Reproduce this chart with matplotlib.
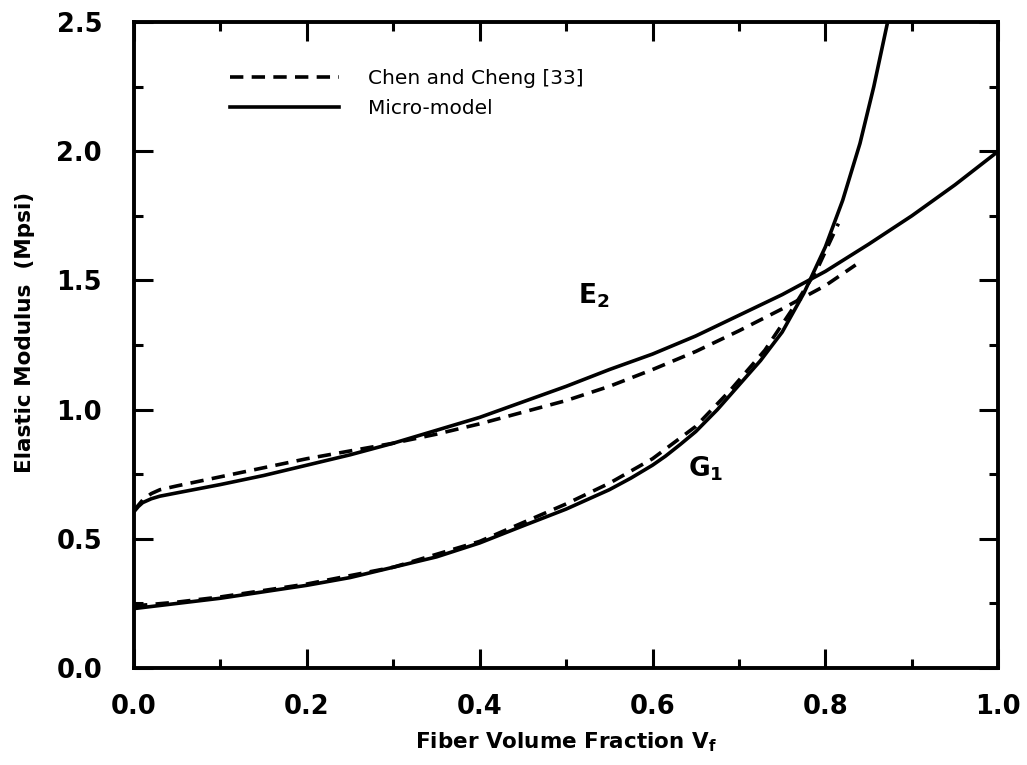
import matplotlib
matplotlib.use('Agg')
from matplotlib import pyplot as plt
from matplotlib.ticker import MultipleLocator

# fiber volume fraction vs modulus (Mpsi)
e2_micro_x = [0, 0.005, 0.01, 0.02, 0.03, 0.05, 0.1, 0.15, 0.2, 0.25, 0.3,
              0.35, 0.4, 0.45, 0.5, 0.55, 0.6, 0.65, 0.7, 0.75, 0.8, 0.85,
              0.9, 0.95, 1.0]
e2_micro_y = [0.605, 0.625, 0.64, 0.655, 0.665, 0.678, 0.71, 0.745, 0.785,
              0.825, 0.87, 0.92, 0.97, 1.03, 1.09, 1.155, 1.215, 1.285,
              1.365, 1.445, 1.535, 1.64, 1.75, 1.87, 2.0]

e2_chen_x = [0, 0.01, 0.02, 0.03, 0.05, 0.1, 0.15, 0.2, 0.25, 0.3, 0.35,
             0.4, 0.45, 0.5, 0.55, 0.6, 0.65, 0.7, 0.75, 0.8, 0.835]
e2_chen_y = [0.61, 0.65, 0.675, 0.69, 0.705, 0.74, 0.775, 0.81, 0.84, 0.87,
             0.905, 0.945, 0.99, 1.035, 1.09, 1.155, 1.225, 1.305, 1.39,
             1.48, 1.56]

g1_micro_x = [0, 0.05, 0.1, 0.15, 0.2, 0.25, 0.3, 0.35, 0.4, 0.45, 0.5,
              0.55, 0.575, 0.6, 0.615, 0.632, 0.65, 0.675, 0.7, 0.725, 0.75,
              0.775, 0.8, 0.82, 0.84, 0.856, 0.872]
g1_micro_y = [0.23, 0.25, 0.27, 0.295, 0.32, 0.35, 0.39, 0.43, 0.484, 0.55,
              0.615, 0.69, 0.735, 0.785, 0.82, 0.865, 0.915, 1.0, 1.095,
              1.19, 1.30, 1.45, 1.63, 1.81, 2.03, 2.25, 2.5]

g1_chen_x = [0, 0.05, 0.1, 0.2, 0.3, 0.4, 0.5, 0.55, 0.6, 0.65, 0.69, 0.73,
             0.76, 0.79, 0.815]
g1_chen_y = [0.24, 0.255, 0.275, 0.325, 0.39, 0.49, 0.635, 0.715, 0.81,
             0.935, 1.075, 1.23, 1.38, 1.54, 1.72]

fig = plt.figure(figsize=(10.27, 7.65), dpi=100)
ax = fig.add_axes([0.1305, 0.1268, 0.8415, 0.8444])

lw = 2.6
dash = (0, (3.7, 2.3))
chen, = ax.plot(e2_chen_x, e2_chen_y, color='black', lw=lw, ls=dash,
                solid_joinstyle='round')
ax.plot(g1_chen_x, g1_chen_y, color='black', lw=lw, ls=dash,
        solid_joinstyle='round')
micro, = ax.plot(e2_micro_x, e2_micro_y, color='black', lw=lw,
                 solid_joinstyle='round')
ax.plot(g1_micro_x, g1_micro_y, color='black', lw=lw, solid_joinstyle='round')

ax.set_xlim(0, 1.0)
ax.set_ylim(0, 2.5)
ax.xaxis.set_major_locator(MultipleLocator(0.2))
ax.xaxis.set_minor_locator(MultipleLocator(0.1))
ax.yaxis.set_major_locator(MultipleLocator(0.5))
ax.yaxis.set_minor_locator(MultipleLocator(0.25))
ax.tick_params(which='both', direction='in', top=True, right=True, width=2.2)
ax.tick_params(which='major', length=13.5)
ax.tick_params(which='minor', length=6.5)
ax.tick_params(axis='x', which='major', pad=19)
ax.tick_params(axis='y', which='major', pad=23)
for lab in ax.get_xticklabels() + ax.get_yticklabels():
    lab.set_fontfamily('DejaVu Sans')
    lab.set_fontweight('bold')
    lab.set_fontsize(18.5)
for s in ax.spines.values():
    s.set_linewidth(2.8)

ax.set_xlabel('Fiber Volume Fraction V$_\\mathbf{f}$', fontsize=15.5,
              fontweight='bold', family='DejaVu Sans')
ax.xaxis.set_label_coords(0.5, -0.097)
ax.set_ylabel('Elastic Modulus  (Mpsi)', fontsize=15.5, fontweight='bold',
              family='DejaVu Sans')
ax.yaxis.set_label_coords(-0.1146, 0.52)

ax.text(0.514, 1.41, '$\\mathbf{E}_\\mathbf{2}$', fontsize=19)
ax.text(0.641, 0.74, '$\\mathbf{G}_\\mathbf{1}$', fontsize=19)

ax.legend([chen, micro], ['Chen and Cheng [33]', 'Micro-model'],
          loc='upper left', bbox_to_anchor=(0.09, 0.955), frameon=False,
          handlelength=5.4, handletextpad=1.45, labelspacing=0.55,
          prop={'family': 'DejaVu Sans', 'size': 14.5})

plt.savefig('out.png')
